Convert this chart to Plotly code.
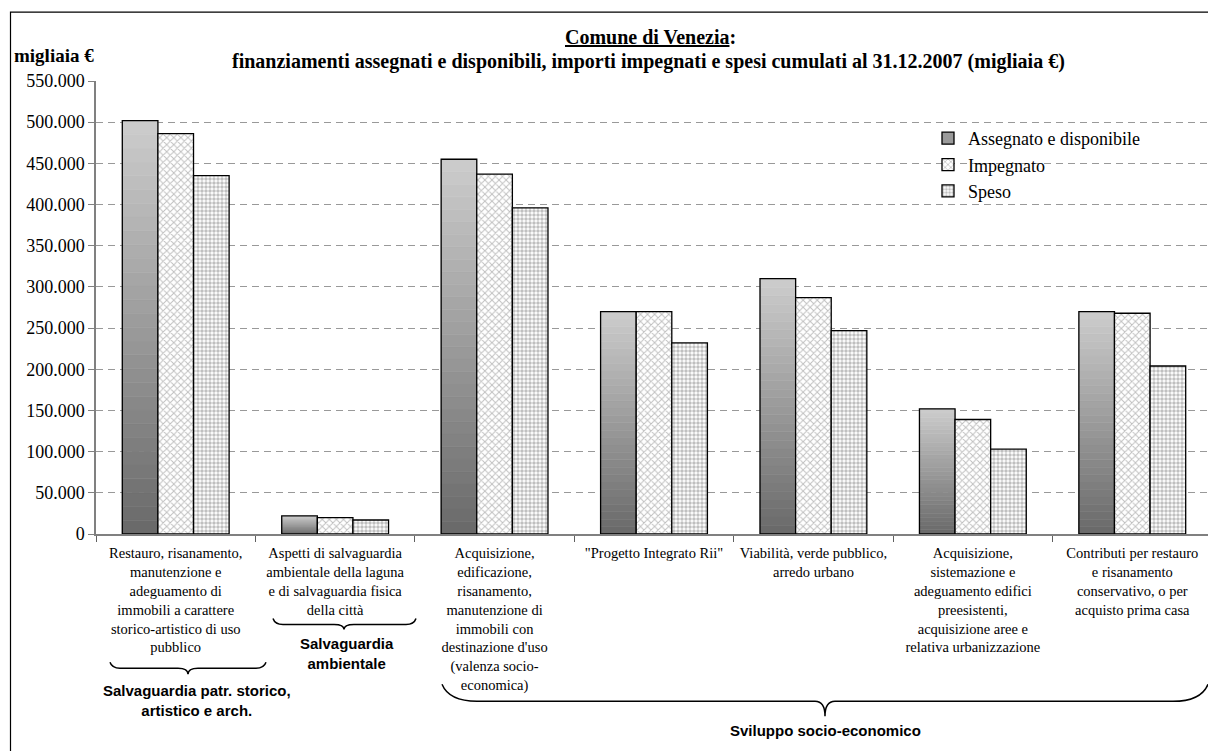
import plotly.graph_objects as go

categories = [
    "Restauro, risanamento,<br>manutenzione e<br>adeguamento di<br>immobili a carattere<br>storico-artistico di uso<br>pubblico",
    "Aspetti di salvaguardia<br>ambientale della laguna<br>e di salvaguardia fisica<br>della città",
    "Acquisizione,<br>edificazione,<br>risanamento,<br>manutenzione di<br>immobili con<br>destinazione d'uso<br>(valenza socio-<br>economica)",
    "\"Progetto Integrato Rii\"",
    "Viabilità, verde pubblico,<br>arredo urbano",
    "Acquisizione,<br>sistemazione e<br>adeguamento edifici<br>preesistenti,<br>acquisizione aree e<br>relativa urbanizzazione",
    "Contributi per restauro<br>e risanamento<br>conservativo, o per<br>acquisto prima casa",
]
assegnato = [502000, 22000, 455000, 270000, 310000, 152000, 270000]
impegnato = [486000, 20000, 437000, 270000, 287000, 139000, 268000]
speso = [435000, 17000, 396000, 232000, 247000, 103000, 204000]
series_names = ["Assegnato e disponibile", "Impegnato", "Speso"]
tick_values = [0, 50000, 100000, 150000, 200000, 250000, 300000, 350000, 400000, 450000, 500000, 550000]

# page has an 8px body margin: figure occupies screen px 8..1216, 8..751
OFF = 8
W, H = 1216 - OFF, 751 - OFF
PLOT_L, PLOT_R, PLOT_T, PLOT_B = 96, 1212, 81, 534.5   # screen coordinates of plot area
L = PLOT_L - OFF
R = W - (PLOT_R - OFF)
T = PLOT_T - OFF
B = H - (PLOT_B - OFF)
PW = PLOT_R - PLOT_L
PH = PLOT_B - PLOT_T


def px(x):
    return (x - PLOT_L) / PW


def py(y):
    return (PLOT_B - y) / PH


SERIF = "Liberation Serif"
SANS = "Liberation Sans"

fig = go.Figure()

# gradient bars for "Assegnato e disponibile"
N = 30
dark = (105, 105, 105)
light = (205, 205, 205)
for k in range(N):
    t = (k + 0.5) / N
    c = tuple(int(dark[i] + (light[i] - dark[i]) * t) for i in range(3))
    col = "rgb(%d,%d,%d)" % c
    fig.add_trace(go.Bar(
        x=categories, y=[v / N for v in assegnato], base=[v * k / N for v in assegnato],
        offsetgroup="a", marker=dict(color=col, line=dict(color=col, width=0.6)),
        showlegend=False, hoverinfo="skip"))
fig.add_trace(go.Bar(
    x=categories, y=assegnato, offsetgroup="a", name=series_names[0],
    marker=dict(color="rgba(0,0,0,0)", line=dict(color="black", width=1.3)),
    showlegend=False))
fig.add_trace(go.Bar(
    x=categories, y=[None] * len(categories), offsetgroup="a", name=series_names[0],
    marker=dict(color="#9a9a9a", line=dict(color="black", width=1.3)),
    showlegend=True, legendrank=1))
fig.add_trace(go.Bar(
    x=categories, y=impegnato, offsetgroup="b", name=series_names[1],
    marker=dict(color="white", line=dict(color="black", width=1.3),
                pattern=dict(shape="x", fgcolor="#808080", bgcolor="white", size=5, solidity=0.35)),
    legendrank=2))
fig.add_trace(go.Bar(
    x=categories, y=speso, offsetgroup="c", name=series_names[2],
    marker=dict(color="white", line=dict(color="black", width=1.3),
                pattern=dict(shape=".", fgcolor="#808080", bgcolor="white", size=4, solidity=0.6)),
    legendrank=3))


def brace(x0, x1, ytop, yline, xtip, ytip, r):
    p = [
        f"M {px(x0)},{py(ytop)}",
        f"Q {px(x0 + r * 0.2)},{py(yline)} {px(x0 + r)},{py(yline)}",
        f"L {px(xtip - 10)},{py(yline)}",
        f"Q {px(xtip)},{py(yline)} {px(xtip)},{py(ytip)}",
        f"Q {px(xtip)},{py(yline)} {px(xtip + 10)},{py(yline)}",
        f"L {px(x1 - r)},{py(yline)}",
        f"Q {px(x1 - r * 0.2)},{py(yline)} {px(x1)},{py(ytop)}",
    ]
    return dict(type="path", path=" ".join(p), xref="paper", yref="paper",
                line=dict(color="black", width=1.5))


shapes = [
    brace(110, 266, 663, 669, 188, 675, 10),
    brace(273, 416, 619, 625, 344, 630, 10),
    brace(442, 1208, 685, 702, 825, 717, 35),
    dict(type="rect", xref="paper", yref="paper", x0=px(10.5), x1=px(1213), y0=py(760), y1=py(12),
         line=dict(color="black", width=1.2), layer="below"),
]

annotations = [
    dict(text="<b><u>Comune di Venezia</u>:</b>", x=px(650), y=py(37), xref="paper", yref="paper",
         showarrow=False, font=dict(family=SERIF, size=20, color="black"), xanchor="center", yanchor="middle"),
    dict(text="<b>finanziamenti assegnati e disponibili, importi impegnati e spesi cumulati al 31.12.2007 (migliaia €)</b>",
         x=px(648), y=py(61), xref="paper", yref="paper", showarrow=False,
         font=dict(family=SERIF, size=20, color="black"), xanchor="center", yanchor="middle"),
    dict(text="<b>migliaia €</b>", x=px(12), y=py(55), xref="paper", yref="paper", showarrow=False,
         font=dict(family=SERIF, size=19, color="black"), xanchor="left", yanchor="middle"),
    dict(text="<b>Salvaguardia patr. storico,<br>artistico e arch.</b>", x=px(197), y=py(701), xref="paper",
         yref="paper", showarrow=False, font=dict(family=SANS, size=15, color="black"),
         xanchor="center", yanchor="middle"),
    dict(text="<b>Salvaguardia<br>ambientale</b>", x=px(347), y=py(654), xref="paper", yref="paper",
         showarrow=False, font=dict(family=SANS, size=15, color="black"), xanchor="center", yanchor="middle"),
    dict(text="<b>Sviluppo socio-economico</b>", x=px(825), y=py(731), xref="paper", yref="paper",
         showarrow=False, font=dict(family=SANS, size=15, color="black"), xanchor="center", yanchor="middle"),
]

fig.update_layout(
    width=W, height=H,
    margin=dict(l=L, r=R, t=T, b=B, autoexpand=False),
    paper_bgcolor="white", plot_bgcolor="white",
    barmode="group", bargap=0.33, bargroupgap=0,
    separators=",.",
    font=dict(family=SERIF, color="black"),
    shapes=shapes, annotations=annotations,
    legend=dict(x=px(928), y=py(120), xanchor="left", yanchor="top",
                font=dict(family=SERIF, size=18, color="black"),
                bgcolor="rgba(0,0,0,0)", traceorder="normal", tracegroupgap=0),
    xaxis=dict(type="category", showline=True, linecolor="#808080", linewidth=1.5,
               ticks="outside", tickson="boundaries", ticklen=6, tickcolor="#606060",
               ticklabelstandoff=5,
               tickfont=dict(family=SERIF, size=14.5, color="black"), tickangle=0,
               showgrid=False, fixedrange=True),
    yaxis=dict(range=[0, 550000], tickvals=tick_values, tickformat=",d",
               showline=True, linecolor="#808080", linewidth=1.5,
               ticks="outside", ticklen=6, tickcolor="#808080",
               tickfont=dict(family=SERIF, size=18, color="black"),
               showgrid=True, gridcolor="#999999", griddash="7px,5px", gridwidth=1,
               zeroline=False),
)

fig.write_html("out.html")
